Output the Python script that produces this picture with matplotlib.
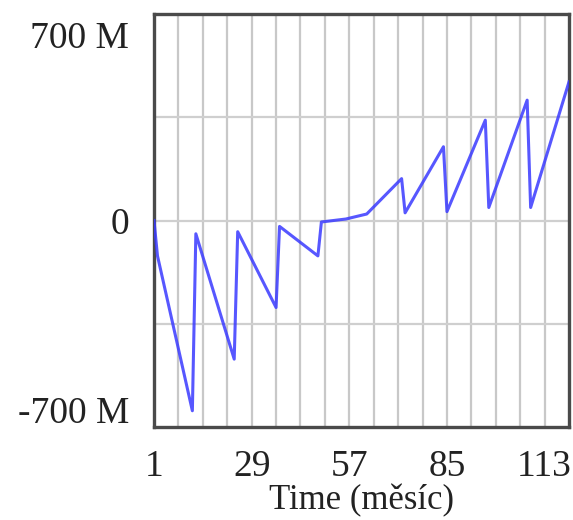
import numpy as np
import matplotlib
matplotlib.use("Agg")
import matplotlib.pyplot as plt
from matplotlib.transforms import ScaledTranslation

# vertices of the curve (month, value in M)
months = [1, 2, 12, 13, 24, 25, 36, 37, 48, 49, 56, 62,
          72, 73, 84, 85, 96, 97, 108, 109, 120]
values_m = [0, -120, -645, -45, -470, -38, -295, -20, -120, -5, 5, 22,
            142, 26, 250, 30, 340, 44, 408, 44, 470]

x_ticks = [1, 29, 57, 85, 113]
y_ticks = [-700e6, 0, 700e6]
y_tick_labels = ["-700 M", "0", "700 M"]
x_label = "Time (měsíc)"

plt.rcParams['font.family'] = ['Liberation Serif', 'DejaVu Serif']

fig = plt.figure(figsize=(5.73, 5.2), dpi=100)
ax = fig.add_axes([154/573, 1 - 427/520, 415/573, 413/520])

values = np.array(values_m) * 1e6
ax.plot(months, values, color='#3a3aff', lw=2.2, alpha=0.85, zorder=3)

ax.set_xlim(1, 120)
ax.set_ylim(-700e6, 700e6)

# grid: every 7 months and every 350 M
for gx in range(8, 120, 7):
    ax.axvline(gx, color='#c8c8c8', lw=1.6, zorder=1)
for gy in [-350e6, 0, 350e6]:
    ax.axhline(gy, color='#cfcfcf', lw=1.6, zorder=1)

ax.set_xticks(x_ticks)
ax.set_xticklabels([str(t) for t in x_ticks])
ax.set_yticks(y_ticks)
ax.set_yticklabels(y_tick_labels)
ax.tick_params(length=0, labelsize=27, colors='#222222')
ax.tick_params(axis='y', pad=18)
ax.tick_params(axis='x', pad=16)

# top/bottom labels sit inside the range, like the original
labels = ax.get_yticklabels()
labels[0].set_transform(labels[0].get_transform() + ScaledTranslation(0, 0.17, fig.dpi_scale_trans))
labels[2].set_transform(labels[2].get_transform() + ScaledTranslation(0, -0.21, fig.dpi_scale_trans))

ax.set_xlabel(x_label, fontsize=25, color='#222222', labelpad=0)

for sp in ax.spines.values():
    sp.set_color('#4a4a4a')
    sp.set_linewidth(2.4)

fig.savefig("out.png", dpi=100)
